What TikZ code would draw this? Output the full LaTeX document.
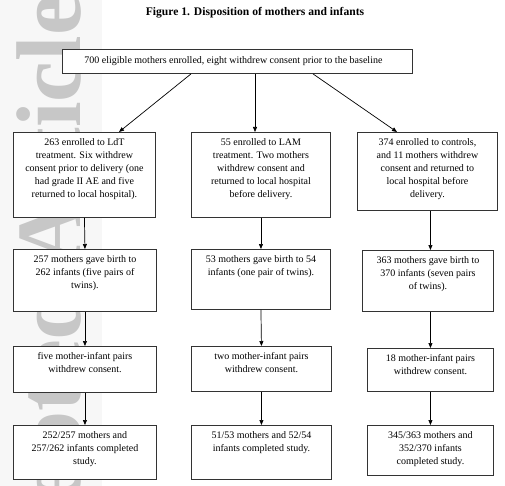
\documentclass[tikz,border=0pt]{standalone}
\usepackage{fontspec}
\setmainfont{Liberation Serif}
\usetikzlibrary{arrows.meta, positioning}

\begin{document}
\begin{tikzpicture}[x=1pt, y=-1pt, >={Triangle[length=5pt, width=4pt]},
    box/.style={draw=black!80, line width=0.9pt, fill=white, inner sep=0pt,
      anchor=north west},
    txt/.style={anchor=north, align=center, inner sep=0pt, yshift=-6pt,
      font=\fontsize{10}{13.2}\selectfont},
    link/.style={->, line width=0.7pt}]
  \useasboundingbox (0,0) rectangle (505,486);

  % Watermark
  \fill[black!3] (0,0) rectangle (102,486);
  \begin{scope}
    \clip (0,0) rectangle (505,486);
    \node[black!22, rotate=90, anchor=base east, inner sep=0pt,
      font=\bfseries\fontsize{92}{92}\selectfont] (mark) at (80,-5)
      {Accepted Article};
  \end{scope}

  \node[font=\bfseries\fontsize{11.6}{14}\selectfont] (title) at (255,13)
    {Figure 1. Disposition of mothers and infants};

  % Baseline
  \node[box, minimum width=350pt, minimum height=24pt] (top) at (62,49) {};
  \node[txt, yshift=-1.5pt, xshift=-4pt] (topt) at (top.north)
    {700 eligible mothers enrolled, eight withdrew consent prior to the baseline};

  % LdT arm
  \node[box, minimum width=142pt, minimum height=85pt] (l1) at (13,132) {};
  \node[txt] (l1t) at (l1.north) {263 enrolled to LdT\\treatment. Six withdrew\\
    consent prior to delivery (one\\had grade II AE and five\\
    returned to local hospital).};
  \node[box, minimum width=143pt, minimum height=62pt] (l2) at (13,249) {};
  \node[txt] (l2t) at (l2.north)
    {257 mothers gave birth to\\262 infants (five pairs of\\twins).};
  \node[box, minimum width=143pt, minimum height=46pt] (l3) at (13,346) {};
  \node[txt] (l3t) at (l3.north) {five mother-infant pairs\\withdrew consent.};
  \node[box, minimum width=143pt, minimum height=54pt] (l4) at (13,425) {};
  \node[txt] (l4t) at (l4.north)
    {252/257 mothers and\\257/262 infants completed\\study.};

  % LAM arm
  \node[box, minimum width=139pt, minimum height=85pt] (m1) at (191,132) {};
  \node[txt] (m1t) at (m1.north) {55 enrolled to LAM\\treatment. Two mothers\\
    withdrew consent and\\returned to local hospital\\before delivery.};
  \node[box, minimum width=139pt, minimum height=60pt] (m2) at (191,249) {};
  \node[txt] (m2t) at (m2.north)
    {53 mothers gave birth to 54\\infants (one pair of twins).};
  \node[box, minimum width=140pt, minimum height=45pt] (m3) at (191,346) {};
  \node[txt] (m3t) at (m3.north) {two mother-infant pairs\\withdrew consent.};
  \node[box, minimum width=140pt, minimum height=54pt] (m4) at (191,425) {};
  \node[txt] (m4t) at (m4.north)
    {51/53 mothers and 52/54\\infants completed study.};

  % Control arm
  \node[box, minimum width=140pt, minimum height=78pt] (r1) at (357,132) {};
  \node[txt] (r1t) at (r1.north) {374 enrolled to controls,\\
    and 11 mothers withdrew\\consent and returned to\\local hospital before\\
    delivery.};
  \node[box, minimum width=131pt, minimum height=61pt] (r2) at (362,250) {};
  \node[txt] (r2t) at (r2.north)
    {363 mothers gave birth to\\370 infants (seven pairs\\of twins).};
  \node[box, minimum width=126pt, minimum height=43pt] (r3) at (367,348) {};
  \node[txt] (r3t) at (r3.north) {18 mother-infant pairs\\withdrew consent.};
  \node[box, minimum width=126pt, minimum height=50pt] (r4) at (367,425) {};
  \node[txt] (r4t) at (r4.north)
    {345/363 mothers and\\352/370 infants\\completed study.};

  % Connectors
  \draw[link] ([xshift=129pt]top.south west) -- ([xshift=106pt]l1.north west);
  \draw[link] ([xshift=193pt]top.south west) -- ([xshift=64pt]m1.north west);
  \draw[link] ([xshift=251pt]top.south west) -- ([xshift=40pt]r1.north west);
  \foreach \col in {l, m} {
    \draw[link] (\col1.south) -- (\col2.north);
    \draw[link] (\col2.south) -- (\col3.north);
    \draw[link] (\col3.south) -- (\col4.north);
  }
  \draw[link] (r1.south -| r3.north) -- (r2.north -| r3.north);
  \draw[link] (r2.south -| r3.north) -- (r3.north);
  \draw[link] (r3.south) -- (r4.north);
\end{tikzpicture}
\end{document}
